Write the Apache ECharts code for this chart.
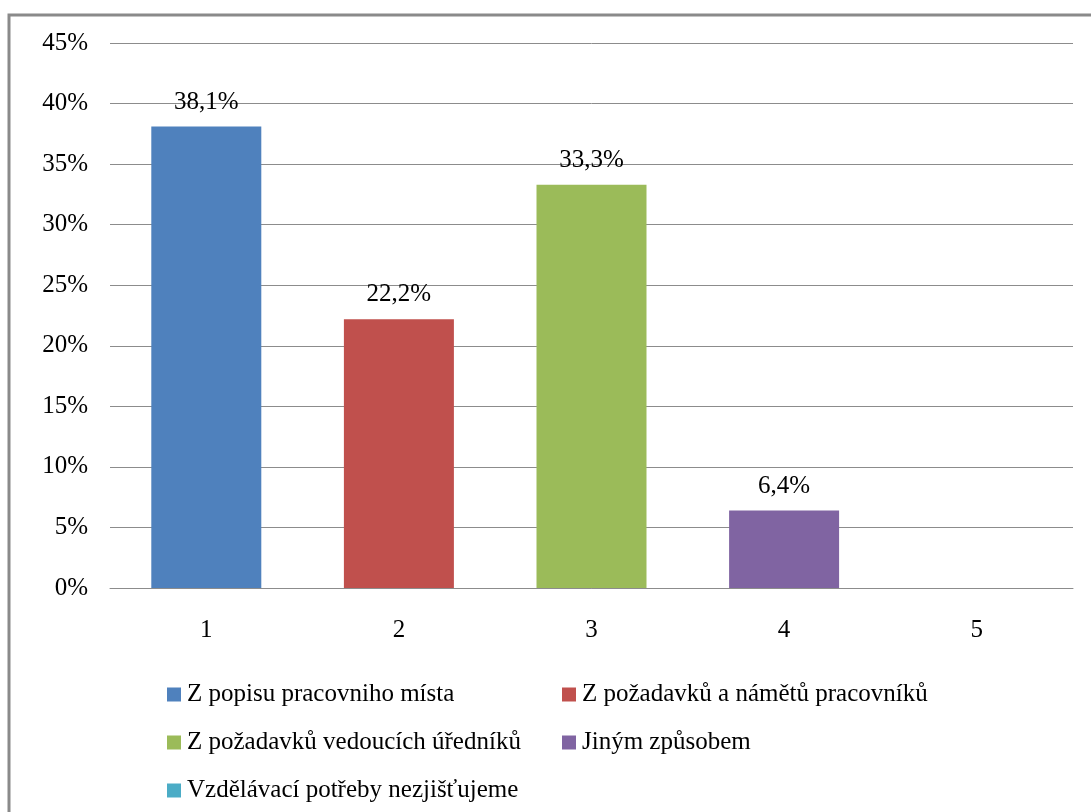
<!DOCTYPE html>
<html>
<head>
<meta charset="utf-8">
<script src="https://cdn.jsdelivr.net/npm/echarts@6/dist/echarts.min.js"></script>
<style>
  html, body { margin: 0; padding: 0; background: #fff; }
  #chart { width: 1091px; height: 812px; }
</style>
</head>
<body>
<div id="chart"></div>
<script>
// categories and values (percent)
var categories = ['1', '2', '3', '4', '5'];
var seriesNames = [
    'Z popisu pracovniho místa',
    'Z požadavků a námětů pracovníků',
    'Z požadavků vedoucích úředníků',
    'Jiným způsobem',
    'Vzdělávací potřeby nezjišťujeme'
];
var values = [38.1, 22.2, 33.3, 6.4, 0];
var colors = ['#4F81BD', '#C0504D', '#9BBB59', '#8064A2', '#4BACC6'];
var yTicks = [0, 5, 10, 15, 20, 25, 30, 35, 40, 45];

var font = 'Liberation Serif, Times New Roman, serif';

var series = seriesNames.map(function (name, i) {
    var data = categories.map(function (c, j) { return j === i ? values[i] : '-'; });
    return {
        name: name,
        type: 'bar',
        stack: 'all',
        barWidth: 110,
        data: data,
        itemStyle: { color: colors[i] },
        label: {
            show: true,
            position: 'top',
            distance: 12,
            color: '#000',
            fontFamily: font,
            fontSize: 25,
            formatter: function (p) {
                if (!p.value) return '';
                return p.value.toFixed(1).replace('.', ',') + '%';
            }
        }
    };
});

var legendBase = {
    orient: 'vertical',
    top: 682,
    padding: 0,
    itemWidth: 14,
    itemHeight: 14,
    itemGap: 23,
    icon: 'rect',
    textStyle: { color: '#000', fontFamily: font, fontSize: 25, lineHeight: 24, padding: [0, 0, 0, 1] }
};

var chart = echarts.init(document.getElementById('chart'));
chart.setOption({
    animation: false,
    color: colors,
    graphic: [{
        type: 'rect',
        shape: { x: 9, y: 15, width: 1200, height: 900 },
        style: { fill: 'none', stroke: '#8a8a8a', lineWidth: 3 }
    }],
    grid: { left: 110, right: 18, top: 43, bottom: 224 },
    xAxis: {
        type: 'category',
        data: categories,
        axisTick: { show: false },
        axisLine: { lineStyle: { color: '#8c8c8c', width: 1 } },
        axisLabel: { color: '#000', fontFamily: font, fontSize: 25, margin: 30 }
    },
    yAxis: {
        type: 'value',
        min: yTicks[0],
        max: yTicks[yTicks.length - 1],
        interval: 5,
        axisLine: { show: false },
        axisTick: { show: false },
        splitLine: { lineStyle: { color: '#8c8c8c', width: 1 } },
        axisLabel: { color: '#000', fontFamily: font, fontSize: 25, margin: 22, formatter: '{value}%' }
    },
    legend: [
        Object.assign({}, legendBase, { left: 167, data: [seriesNames[0], seriesNames[2], seriesNames[4]] }),
        Object.assign({}, legendBase, { left: 562, data: [seriesNames[1], seriesNames[3]] })
    ],
    series: series
});
</script>
</body>
</html>
